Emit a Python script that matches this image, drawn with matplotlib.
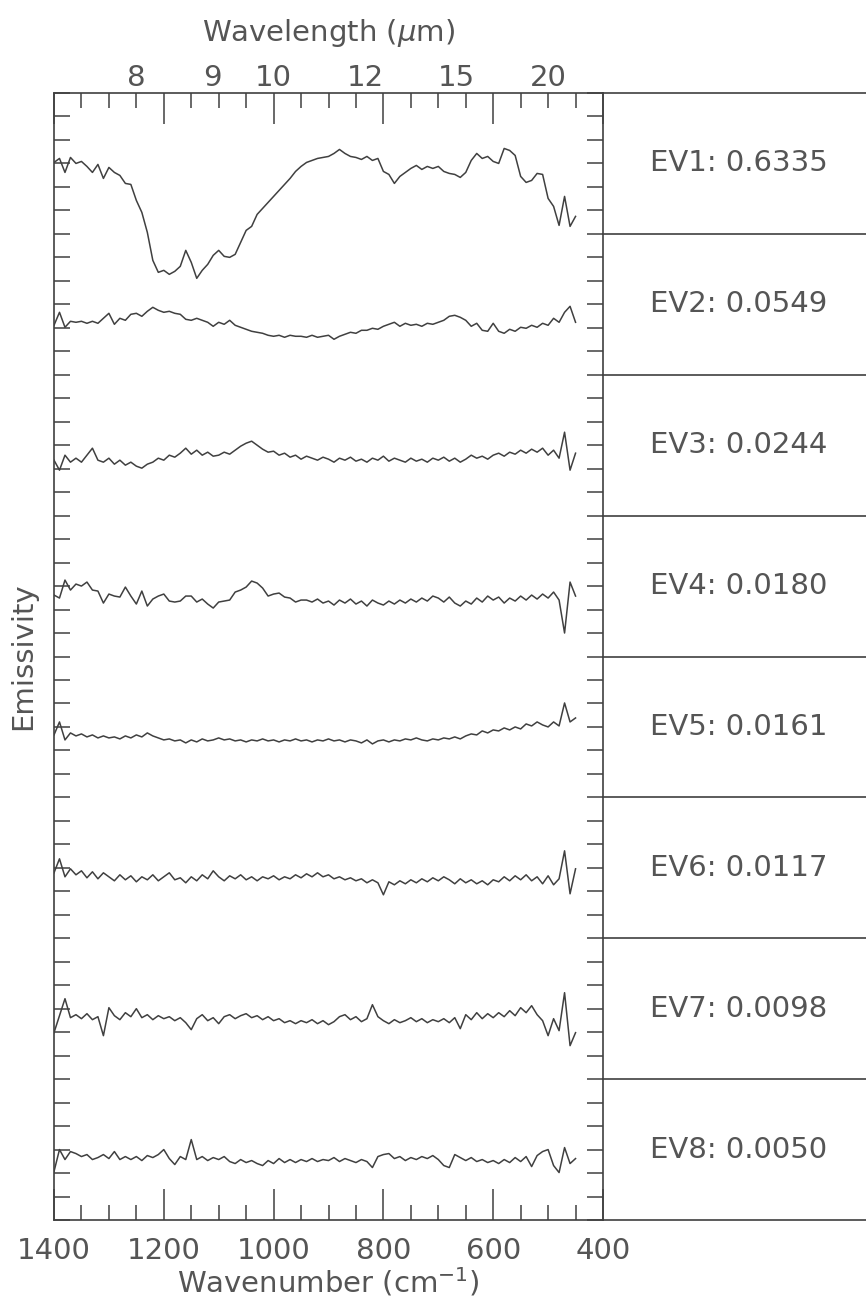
import numpy as np
import matplotlib.pyplot as plt
from matplotlib.ticker import MultipleLocator

plt.rcParams['font.family'] = 'DejaVu Sans'
plt.rcParams['mathtext.fontset'] = 'dejavusans'
plt.rcParams['font.size'] = 21

# wavenumber grid (cm-1), 10 cm-1 steps from 1400 down to 450
wavenumber = np.arange(1400, 449, -10)

# eigenvector spectra, offsets from each panel's centre line (arbitrary units)
ev1 = [1, 5, -9, 6, 0, 2, -3, -9, -1, -15, -4, -9, -12, -20, -21, -37, -49, -69, -97, -109,
       -107, -111, -108, -103, -87, -99, -115, -107, -101, -92, -87, -93, -94, -91, -79, -67, -63, -51, -45, -39,
       -33, -27, -21, -15, -8, -3, 1, 3, 5, 6, 7, 10, 14, 10, 7, 6, 4, 7, 3, 5,
       -8, -11, -20, -13, -9, -5, -2, -6, -3, -5, -3, -8, -10, -11, -14, -9, 3, 10, 5, 7,
       2, 0, 15, 13, 8, -13, -19, -17, -10, -11, -35, -43, -62, -33, -63, -53]
ev2 = [-21, -8, -23, -17, -18, -17, -19, -17, -19, -14, -9, -20, -14, -16, -10, -9, -12, -7, -3, -6,
       -8, -7, -9, -10, -15, -16, -14, -16, -18, -22, -18, -20, -16, -21, -23, -25, -27, -28, -29, -31,
       -32, -31, -33, -31, -32, -32, -33, -31, -33, -32, -31, -35, -32, -30, -28, -29, -26, -26, -24, -25,
       -22, -20, -18, -22, -19, -21, -20, -22, -19, -20, -18, -16, -12, -11, -13, -16, -22, -19, -26, -27,
       -19, -27, -29, -25, -27, -23, -24, -21, -23, -19, -21, -14, -18, -8, -2, -18]
ev3 = [-15, -25, -10, -17, -13, -17, -10, -3, -15, -17, -13, -19, -15, -20, -17, -21, -23, -19, -17, -13,
       -15, -10, -12, -8, -3, -9, -5, -10, -7, -11, -10, -7, -9, -5, -1, 2, 4, 0, -4, -7,
       -6, -10, -8, -12, -10, -14, -11, -13, -15, -12, -14, -17, -13, -15, -12, -16, -14, -17, -13, -15,
       -11, -16, -13, -15, -17, -13, -16, -14, -17, -13, -15, -12, -16, -13, -17, -14, -10, -13, -11, -14,
       -10, -8, -11, -7, -9, -5, -8, -4, -7, -3, -10, -5, -13, 13, -25, -8]
ev4 = [-9, -12, 6, -4, 2, 0, 4, -4, -5, -17, -8, -10, -11, -1, -10, -18, -5, -20, -13, -10,
       -8, -15, -16, -15, -10, -10, -16, -13, -18, -22, -16, -15, -14, -6, -4, -1, 5, 3, -2, -10,
       -8, -7, -11, -12, -16, -14, -14, -16, -13, -17, -15, -19, -14, -17, -13, -18, -15, -20, -14, -17,
       -19, -15, -18, -14, -17, -13, -16, -12, -15, -10, -12, -16, -11, -17, -20, -15, -18, -12, -16, -10,
       -14, -11, -17, -12, -15, -10, -14, -9, -13, -8, -12, -6, -14, -47, 4, -10]
ev5 = [-8, 5, -13, -6, -9, -7, -10, -8, -11, -9, -11, -10, -12, -9, -11, -8, -10, -6, -9, -11,
       -13, -12, -14, -13, -16, -13, -15, -12, -14, -13, -11, -13, -12, -14, -13, -15, -13, -14, -12, -14,
       -13, -15, -13, -14, -12, -14, -13, -15, -13, -14, -12, -14, -13, -15, -13, -14, -16, -13, -17, -14,
       -13, -15, -13, -14, -12, -13, -11, -13, -14, -12, -13, -11, -12, -10, -12, -9, -7, -8, -4, -6,
       -3, -4, -1, -3, 0, -2, 3, 1, 5, 2, 0, 5, 1, 24, 5, 9]
ev6 = [-5, 9, -9, -1, -7, -3, -10, -4, -11, -5, -9, -13, -7, -12, -8, -14, -9, -12, -7, -13,
       -9, -5, -12, -10, -15, -9, -13, -7, -11, -3, -9, -13, -8, -11, -7, -12, -9, -13, -9, -11,
       -8, -12, -9, -11, -7, -10, -6, -9, -5, -9, -7, -11, -9, -12, -10, -13, -11, -15, -12, -15,
       -27, -14, -17, -13, -16, -12, -15, -11, -14, -10, -13, -9, -12, -16, -11, -15, -12, -16, -13, -17,
       -12, -14, -9, -13, -8, -12, -7, -13, -9, -16, -8, -17, -11, 17, -26, -1]
ev7 = [-24, -7, 10, -9, -6, -10, -5, -11, -8, -27, 1, -7, -11, -4, -8, 0, -9, -6, -11, -7,
       -10, -8, -12, -9, -14, -21, -10, -6, -12, -9, -15, -8, -6, -10, -7, -5, -9, -7, -11, -8,
       -12, -10, -14, -12, -15, -12, -14, -11, -15, -12, -16, -13, -8, -6, -11, -8, -13, -10, 4, -8,
       -12, -15, -11, -14, -12, -9, -13, -10, -14, -11, -13, -10, -14, -9, -20, -6, -11, -4, -10, -5,
       -9, -4, -8, -2, -7, 1, -4, 3, -6, -12, -27, -10, -22, 16, -37, -24]
ev8 = [-22, 0, -10, -2, -4, -7, -5, -10, -8, -5, -9, -2, -10, -7, -10, -7, -11, -6, -8, -5,
       0, -9, -15, -7, -10, 10, -10, -7, -11, -8, -10, -7, -12, -14, -10, -13, -11, -14, -16, -11,
       -14, -9, -13, -10, -13, -10, -12, -9, -12, -10, -11, -8, -12, -9, -11, -13, -10, -12, -18, -7,
       -5, -4, -9, -7, -11, -8, -10, -7, -9, -6, -10, -16, -18, -5, -8, -11, -8, -12, -10, -13,
       -11, -14, -10, -13, -8, -12, -7, -17, -6, -2, 0, -16, -23, 2, -14, -9]

spectra = [ev1, ev2, ev3, ev4, ev5, ev6, ev7, ev8]
labels = ['EV1: 0.6335', 'EV2: 0.0549', 'EV3: 0.0244', 'EV4: 0.0180',
          'EV5: 0.0161', 'EV6: 0.0117', 'EV7: 0.0098', 'EV8: 0.0050']
wl_ticks = [8, 9, 10, 12, 15, 20]

panel = 141
ink = '#404040'
txt = '#555555'

fig = plt.figure(figsize=(8.66, 12.99), dpi=100)
ax = fig.add_axes([54/866, 1 - 1220/1299, 549/866, 1127/1299])

for k, ev in enumerate(spectra):
    ax.plot(wavenumber, np.array(ev) - (k + 0.5) * panel, color=ink, lw=1.1)

ax.set_xlim(1400, 400)
ax.set_ylim(-8 * panel, 0)
ax.xaxis.set_major_locator(MultipleLocator(200))
ax.xaxis.set_minor_locator(MultipleLocator(50))
ax.yaxis.set_major_locator(MultipleLocator(panel / 6))
ax.tick_params(axis='x', which='major', direction='in', top=True, length=22, width=1.1,
               color=ink, labelcolor=txt, pad=12)
ax.tick_params(axis='x', which='minor', direction='in', top=True, length=11, width=1.1, color=ink)
ax.tick_params(axis='y', direction='in', left=True, right=True, length=11.5, width=1.1,
               color=ink, labelleft=False)
for s in ax.spines.values():
    s.set_color(ink)
    s.set_linewidth(1.2)
ax.set_xlabel('Wavenumber (cm$^{-1}$)', color=txt, labelpad=1)
ax.set_ylabel('Emissivity', color=txt, labelpad=12)


def inv(x):
    x = np.asarray(x, float)
    with np.errstate(divide='ignore'):
        return 1e4 / x


sec = ax.secondary_xaxis('top', functions=(inv, inv))
sec.set_xticks(wl_ticks)
sec.set_xticklabels([str(t) for t in wl_ticks])
sec.tick_params(length=0, pad=1, labelcolor=txt)
sec.spines['top'].set_visible(False)
sec.set_xlabel('Wavelength ($\\mu$m)', color=txt, labelpad=16)

lab = fig.add_axes([603/866, 1 - 1220/1299, 263/866, 1127/1299])
lab.set_xlim(0, 1)
lab.set_ylim(-8 * panel, 0)
lab.axis('off')
for k in range(9):
    lab.axhline(-k * panel, color=ink, lw=1.2, clip_on=False)
for k, t in enumerate(labels):
    lab.text(0.517, -(k + 0.5) * panel, t, ha='center', va='center', color=txt)

fig.savefig('out.png', dpi=100)
